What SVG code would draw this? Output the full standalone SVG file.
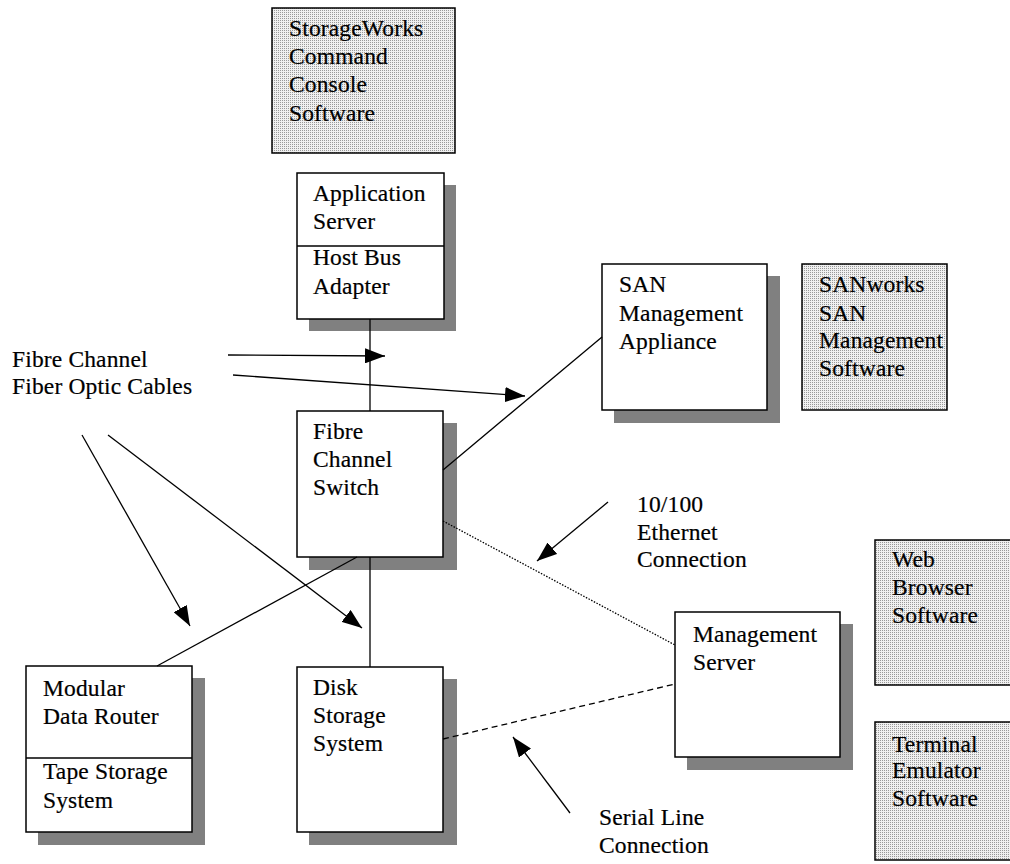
<svg xmlns="http://www.w3.org/2000/svg" width="1010" height="864" viewBox="0 0 1010 864">
<defs>
<pattern id="stip" width="2" height="2" patternUnits="userSpaceOnUse">
<rect width="2" height="2" fill="#f0f0f0"/>
<rect width="1" height="1" fill="#999"/>
</pattern>
<marker id="ah" viewBox="0 0 20 15" refX="20" refY="7.5" markerWidth="20" markerHeight="15" markerUnits="userSpaceOnUse" orient="auto">
<path d="M0,0 L20,7.5 L0,15 z" fill="#000"/>
</marker>
<style>
text { font-family: "Liberation Serif", "Times New Roman", serif; font-size: 23.5px; letter-spacing: 0.15px; fill: #000; stroke: #000; stroke-width: 0.2; }
.box { fill: #fff; stroke: #000; stroke-width: 1.5; }
.soft { fill: url(#stip); stroke: #000; stroke-width: 1.5; }
.sh { fill: #808080; }
.ln { stroke: #000; stroke-width: 1.3; fill: none; }
.ar { stroke: #000; stroke-width: 1.3; fill: none; marker-end: url(#ah); }
</style>
</defs>
<rect width="1010" height="864" fill="#fff"/>

<g id="storageworks">
<rect class="soft" x="272" y="8" width="183" height="145"/>
<text x="289" y="36">StorageWorks</text>
<text x="289" y="64">Command</text>
<text x="289" y="92">Console</text>
<text x="289" y="121">Software</text>
</g>

<g id="appserver">
<rect class="sh" x="309" y="185" width="147" height="146"/>
<rect class="box" x="297" y="173" width="147" height="146"/>
<line class="ln" x1="297" y1="246" x2="444" y2="246"/>
<text x="313" y="201">Application</text>
<text x="313" y="229">Server</text>
<text x="313" y="265">Host Bus</text>
<text x="313" y="294">Adapter</text>
</g>

<g id="san-appliance">
<rect class="sh" x="614" y="276" width="166" height="147"/>
<rect class="box" x="602" y="264" width="165" height="146"/>
<text x="619" y="292">SAN</text>
<text x="619" y="321">Management</text>
<text x="619" y="349">Appliance</text>
</g>

<g id="sanworks">
<rect class="soft" x="802" y="264" width="145" height="146"/>
<text x="819" y="292">SANworks</text>
<text x="819" y="321">SAN</text>
<text x="819" y="348">Management</text>
<text x="819" y="376">Software</text>
</g>

<g id="fibre-label">
<text x="12" y="367">Fibre Channel</text>
<text x="12" y="394">Fiber Optic Cables</text>
</g>

<g id="switch">
<rect class="sh" x="309" y="423" width="148" height="147"/>
<rect class="box" x="297" y="411" width="146" height="146"/>
<text x="313" y="439">Fibre</text>
<text x="313" y="467">Channel</text>
<text x="313" y="495">Switch</text>
</g>

<g id="ethernet-label">
<text x="637" y="512">10/100</text>
<text x="637" y="540">Ethernet</text>
<text x="637" y="567">Connection</text>
</g>

<g id="mgmt-server">
<rect class="sh" x="687" y="624" width="166" height="146"/>
<rect class="box" x="675" y="612" width="165" height="145"/>
<text x="693" y="642">Management</text>
<text x="693" y="670">Server</text>
</g>

<g id="web-browser">
<rect class="soft" x="875" y="540" width="140" height="145"/>
<text x="892" y="567">Web</text>
<text x="892" y="595">Browser</text>
<text x="892" y="623">Software</text>
</g>

<g id="terminal">
<rect class="soft" x="875" y="722" width="140" height="138"/>
<text x="892" y="752">Terminal</text>
<text x="892" y="778">Emulator</text>
<text x="892" y="806">Software</text>
</g>

<g id="mdr">
<rect class="sh" x="38" y="678" width="167" height="167"/>
<rect class="box" x="26" y="666" width="166" height="166"/>
<line class="ln" x1="26" y1="758" x2="192" y2="758"/>
<text x="43" y="696">Modular</text>
<text x="43" y="724">Data Router</text>
<text x="43" y="779">Tape Storage</text>
<text x="43" y="808">System</text>
</g>

<g id="disk">
<rect class="sh" x="309" y="679" width="148" height="166"/>
<rect class="box" x="297" y="667" width="146" height="165"/>
<text x="313" y="695">Disk</text>
<text x="313" y="723">Storage</text>
<text x="313" y="751">System</text>
</g>

<g id="serial-label">
<text x="599" y="825">Serial Line</text>
<text x="599" y="853">Connection</text>
</g>

<g id="connectors">
<line class="ln" x1="370" y1="319" x2="370" y2="411"/>
<line class="ln" x1="443" y1="470" x2="602" y2="337"/>
<line class="ln" x1="443" y1="521" x2="675" y2="645" stroke-dasharray="1.5,1.5"/>
<line class="ln" x1="357" y1="557" x2="157" y2="666"/>
<line class="ln" x1="370" y1="557" x2="370" y2="667"/>
<line class="ln" x1="443" y1="739" x2="675" y2="684" stroke-dasharray="6,4"/>
<line class="ar" x1="228" y1="355" x2="385" y2="356"/>
<line class="ar" x1="233" y1="375" x2="525" y2="396"/>
<line class="ar" x1="82" y1="435" x2="190" y2="626"/>
<line class="ar" x1="108" y1="435" x2="362" y2="628"/>
<line class="ar" x1="608" y1="502" x2="537" y2="561"/>
<line class="ar" x1="570" y1="813" x2="513" y2="737"/>
</g>
</svg>
